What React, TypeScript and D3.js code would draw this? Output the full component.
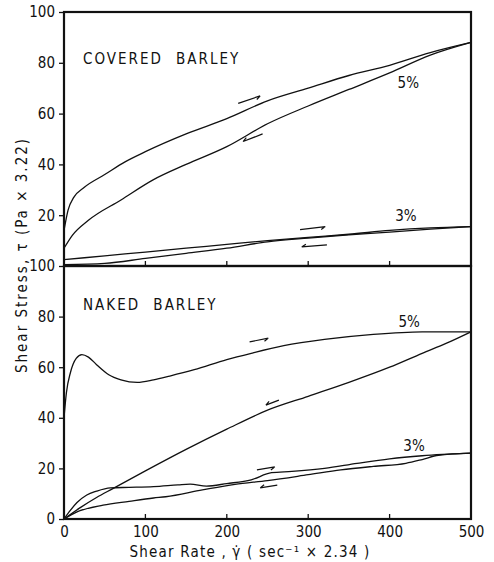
import { useEffect, useRef } from 'react';
import * as d3 from 'd3';

// shear rate (x) and shear stress (y) readings, [x, y]
const coveredUp5: [number, number][] = [
  [0, 14], [5, 22], [12, 27], [25, 31], [50, 36], [75, 41], [100, 45], [150, 52],
  [200, 58], [250, 65], [300, 70], [350, 75], [400, 79], [450, 84], [500, 88],
];
const coveredDown5: [number, number][] = [
  [0, 7], [10, 12], [30, 18], [70, 26], [110, 34], [150, 40], [200, 47], [250, 56],
  [300, 63], [350, 69.5], [400, 76], [450, 83], [500, 88],
];
const coveredUp3: [number, number][] = [
  [0, 2.5], [50, 4], [100, 5.5], [150, 7], [200, 8.5], [250, 10], [300, 11.3],
  [350, 12.5], [400, 14], [450, 15], [500, 15.5],
];
const coveredDown3: [number, number][] = [
  [0, 0.5], [50, 1], [100, 3], [150, 5], [200, 7], [250, 9.5], [300, 11],
  [350, 12.3], [400, 13.3], [450, 14.5], [500, 15.5],
];

const nakedUp5: [number, number][] = [
  [0, 40], [3, 50], [8, 58], [15, 63.5], [22, 65], [30, 64], [40, 61], [55, 57],
  [70, 55], [90, 54], [110, 55], [130, 56.5], [160, 59], [200, 63], [230, 65.5],
  [270, 68.5], [320, 71], [380, 73], [440, 74], [500, 74],
];
const nakedDown5: [number, number][] = [
  [0, 0], [20, 4.5], [40, 8.5], [60, 12], [100, 19], [150, 27.5], [200, 35.5], [250, 43],
  [300, 48.5], [350, 54], [400, 60], [440, 65.5], [470, 69.5], [500, 74],
];
const nakedUp3: [number, number][] = [
  [0, 0], [8, 3.5], [16, 6.5], [28, 9.5], [40, 11], [57, 12.3], [80, 12.5], [110, 12.8],
  [140, 13.5], [155, 13.8], [175, 13], [200, 14], [230, 15.5], [255, 18.3], [280, 18.8],
  [320, 20], [360, 22], [400, 23.8], [440, 25], [500, 26],
];
const nakedDown3: [number, number][] = [
  [0, 0], [16, 2.8], [48, 5.5], [80, 7], [110, 8.3], [125, 8.8], [170, 11.5], [210, 13.7],
  [250, 15.2], [300, 17.5], [340, 19.4], [380, 20.8], [420, 22], [440, 23.5], [460, 25.2], [500, 26],
];

// direction arrows: [x0, y0, x1, y1]
const coveredArrows = [
  [214, 64, 241, 67],
  [244, 52, 220, 49],
  [290, 14.3, 321, 15.5],
  [323, 8.3, 292, 7.5],
];
const nakedArrows = [
  [228, 70, 251, 71.5],
  [264, 47, 248, 45],
  [237, 19.4, 259, 20.6],
  [262, 13.4, 241, 12.3],
];

// curve labels: [x, y, text]
const coveredLabels: [number, number, string][] = [[423, 72, '5%'], [420, 19.5, '3%']];
const nakedLabels: [number, number, string][] = [[424, 77.5, '5%'], [430, 28.5, '3%']];

const xTicks = [0, 100, 200, 300, 400, 500];
const topYTicks = [20, 40, 60, 80, 100];
const bottomYTicks = [0, 20, 40, 60, 80, 100];

const FONT = '"DejaVu Sans Condensed", "Liberation Sans Narrow", "Liberation Sans", sans-serif';

export default function App() {
  const svgRef = useRef<SVGSVGElement>(null);

  useEffect(() => {
    if (!svgRef.current) return;
    const svg = d3.select(svgRef.current);
    svg.selectAll('*').remove();

    const left = 64;
    const right = 471;
    const top = 12;
    const mid = 266;
    const bottom = 519;

    const x = d3.scaleLinear().domain([0, 500]).range([left, right]);
    const yTop = d3.scaleLinear().domain([0, 100]).range([mid, top]);
    const yBot = d3.scaleLinear().domain([0, 100]).range([bottom, mid]);

    const drawPanel = (
      y: d3.ScaleLinear<number, number>,
      curves: [number, number][][],
      arrows: number[][],
      labels: [number, number, string][],
      title: string,
      titleY: number,
      yTicks: number[]
    ) => {
      const g = svg.append('g');
      const line = d3
        .line<[number, number]>()
        .x((d) => x(d[0]))
        .y((d) => y(d[1]))
        .curve(d3.curveMonotoneX);

      curves.forEach((c) => {
        g.append('path')
          .datum(c)
          .attr('fill', 'none')
          .attr('stroke', '#111')
          .attr('stroke-width', 1.3)
          .attr('d', line);
      });

      arrows.forEach(([x0, y0, x1, y1]) => {
        const px0 = x(x0), py0 = y(y0), px1 = x(x1), py1 = y(y1);
        const ang = Math.atan2(py1 - py0, px1 - px0);
        const hx = px1 - 5 * Math.cos(ang - 0.5);
        const hy = py1 - 5 * Math.sin(ang - 0.5);
        g.append('path')
          .attr('d', `M${px0},${py0}L${px1},${py1}M${hx},${hy}L${px1},${py1}`)
          .attr('fill', 'none')
          .attr('stroke', '#111')
          .attr('stroke-width', 1.2);
      });

      labels.forEach(([lx, ly, t]) => {
        g.append('text')
          .attr('x', x(lx))
          .attr('y', y(ly))
          .attr('text-anchor', 'middle')
          .attr('dominant-baseline', 'middle')
          .style('font-family', FONT)
          .style('font-size', '15px')
          .style('fill', '#111')
          .text(t);
      });

      g.append('text')
        .attr('x', 83)
        .attr('y', titleY)
        .style('font-family', FONT)
        .style('font-size', '15px')
        .style('letter-spacing', '2px')
        .style('word-spacing', '7px')
        .style('fill', '#111')
        .text(title);

      // y axis ticks and labels
      const ya = g
        .append('g')
        .attr('transform', `translate(${left},0)`)
        .call(d3.axisLeft(y).tickValues(yTicks).tickSize(5).tickPadding(4).tickFormat(d3.format('d')));
      ya.select('.domain').remove();
      ya.selectAll('line').attr('stroke', '#111').attr('stroke-width', 1.3);
      ya.selectAll('text')
        .style('font-family', FONT)
        .style('font-size', '15px')
        .style('fill', '#111');

      // inward x ticks at panel bottom
      const yb = y(0);
      g.selectAll('.xt')
        .data(xTicks.slice(1, 5))
        .enter()
        .append('line')
        .attr('x1', (d) => x(d))
        .attr('x2', (d) => x(d))
        .attr('y1', yb)
        .attr('y2', yb - 5)
        .attr('stroke', '#111')
        .attr('stroke-width', 1.3);

      g.append('rect')
        .attr('x', left)
        .attr('y', y(100))
        .attr('width', right - left)
        .attr('height', y(0) - y(100))
        .attr('fill', 'none')
        .attr('stroke', '#111')
        .attr('stroke-width', 2.2);
    };

    drawPanel(
      yTop,
      [coveredUp5, coveredDown5, coveredUp3, coveredDown3],
      coveredArrows,
      coveredLabels,
      'COVERED BARLEY',
      64,
      topYTicks
    );
    drawPanel(
      yBot,
      [nakedUp5, nakedDown5, nakedUp3, nakedDown3],
      nakedArrows,
      nakedLabels,
      'NAKED BARLEY',
      310,
      bottomYTicks
    );

    // x axis labels
    const xa = svg
      .append('g')
      .attr('transform', `translate(0,${bottom})`)
      .call(d3.axisBottom(x).tickValues(xTicks).tickSize(0).tickPadding(7).tickFormat(d3.format('d')));
    xa.select('.domain').remove();
    xa.selectAll('text')
      .style('font-family', FONT)
      .style('font-size', '15px')
      .style('fill', '#111');

    svg
      .append('text')
      .attr('x', 250)
      .attr('y', 557)
      .attr('text-anchor', 'middle')
      .style('font-family', FONT)
      .style('font-size', '15px')
      .style('letter-spacing', '1.2px')
      .style('fill', '#111')
      .text('Shear Rate , γ̇ ( sec⁻¹ × 2.34 )');

    svg
      .append('text')
      .attr('transform', 'translate(27,255) rotate(-90)')
      .attr('text-anchor', 'middle')
      .style('font-family', FONT)
      .style('font-size', '15px')
      .style('letter-spacing', '2px')
      .style('fill', '#111')
      .text('Shear Stress, τ (Pa × 3.22)');
  }, []);

  return (
    <svg
      ref={svgRef}
      width={494}
      height={562}
      style={{ position: 'absolute', left: 0, top: 0, background: '#fff' }}
    />
  );
}
